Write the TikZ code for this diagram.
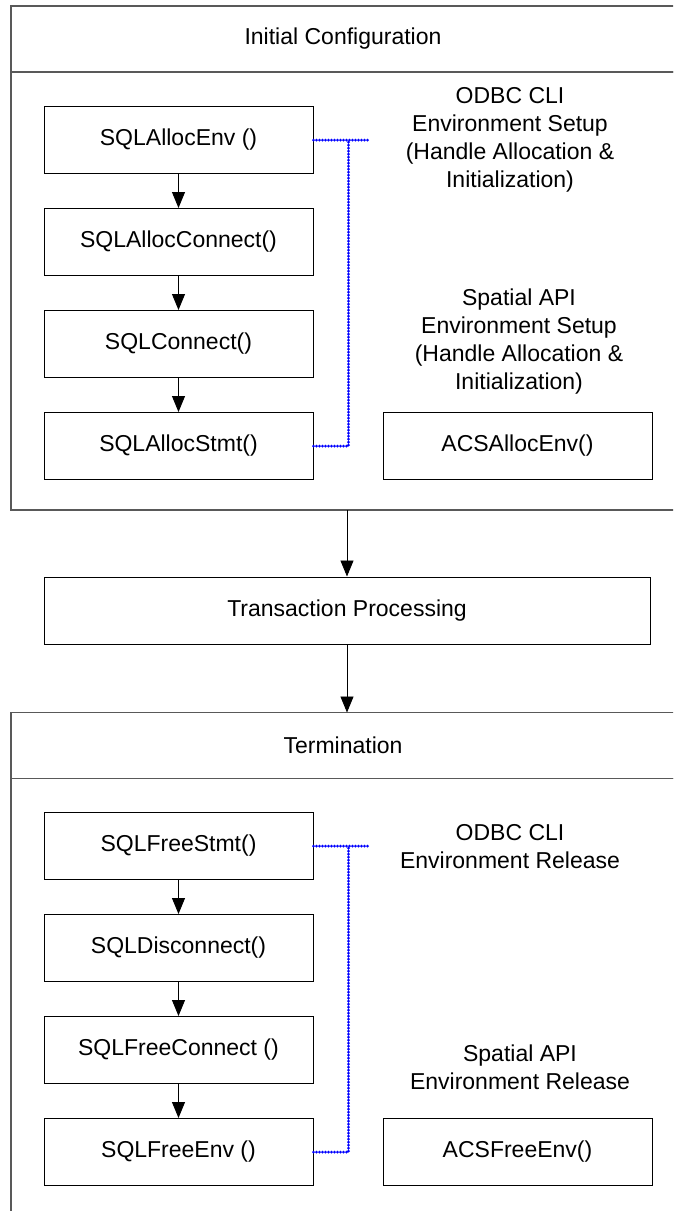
\documentclass[tikz,border=0pt]{standalone}
\usepackage{fontspec}
\setmainfont{Liberation Sans}
\usetikzlibrary{arrows.meta, positioning, calc}

\begin{document}
\begin{tikzpicture}[
    x=1pt, y=-1pt,
    font=\fontsize{23}{28}\selectfont,
    >={Triangle[length=16pt, width=13pt]},
    call/.style={rectangle, draw, line width=1pt, minimum width=269pt, minimum height=67pt, inner sep=0pt},
    stage/.style={rectangle, draw=black!65, line width=1.3pt, minimum width=664pt, minimum height=66pt, inner sep=0pt, outer sep=0pt},
    stagebody/.style={stage, minimum height=#1},
    note/.style={align=center, inner sep=0pt},
    flow/.style={->, line width=0.9pt},
    handle/.style={blue, line width=3pt, line cap=round, dash pattern=on 0pt off 3pt},
]
    \useasboundingbox (0,0) rectangle (673,1211);
    \clip (0,0) rectangle (673,1211);

    % Initial configuration stage
    \node[stage] (init) at (343,39) {Initial Configuration};
    \node[stagebody=438pt, below=0pt of init] (initbody) {};

    \node[call] (allocenv) at (178.5,140) {SQLAllocEnv ()};
    \node[call, below=34pt of allocenv] (allocconn) {SQLAllocConnect()};
    \node[call, below=34pt of allocconn] (connect) {SQLConnect()};
    \node[call, below=34pt of connect] (allocstmt) {SQLAllocStmt()};
    \node[call, right=69pt of allocstmt] (acsalloc) {ACSAllocEnv()};

    \node[note] (odbcsetup) at (510,140) {ODBC CLI\\Environment Setup\\(Handle Allocation \&\\Initialization)};
    \node[note] (spatialsetup) at (519,342) {Spatial API\\Environment Setup\\(Handle Allocation \&\\Initialization)};

    \foreach \a/\b in {allocenv/allocconn, allocconn/connect, connect/allocstmt}
        \draw[flow] (\a) -- (\b);

    \coordinate (setupend) at ($(allocenv.east)+(57,0)$);
    \coordinate (setupjoin) at ($(allocenv.east)+(35,0)$);
    \draw[handle] (allocenv.east) -- (setupend);
    \draw[handle] (allocstmt.east) -| (setupjoin);

    % Transaction processing
    \node[call, minimum width=606pt] (trans) at (347,610.5) {Transaction Processing};

    % Termination stage
    \node[stage] (term) at (343,745.5) {Termination};
    \node[stagebody=600pt, below=0pt of term] (termbody) {};

    \node[call] (freestmt) at (178.5,846) {SQLFreeStmt()};
    \node[call, below=34pt of freestmt] (disconnect) {SQLDisconnect()};
    \node[call, below=34pt of disconnect] (freeconn) {SQLFreeConnect ()};
    \node[call, below=34pt of freeconn] (freeenv) {SQLFreeEnv ()};
    \node[call, right=69pt of freeenv] (acsfree) {ACSFreeEnv()};

    \node[note] (odbcrelease) at (510,847) {ODBC CLI\\Environment Release};
    \node[note] (spatialrelease) at (520,1067) {Spatial API\\Environment Release};

    \foreach \a/\b in {freestmt/disconnect, disconnect/freeconn, freeconn/freeenv}
        \draw[flow] (\a) -- (\b);

    \coordinate (releaseend) at ($(freestmt.east)+(57,0)$);
    \coordinate (releasejoin) at ($(freestmt.east)+(35,0)$);
    \draw[handle] (freestmt.east) -- (releaseend);
    \draw[handle] (freeenv.east) -| (releasejoin);

    \draw[flow] (initbody.south -| trans) -- (trans);
    \draw[flow] (trans) -- (trans |- term.north);
\end{tikzpicture}
\end{document}
